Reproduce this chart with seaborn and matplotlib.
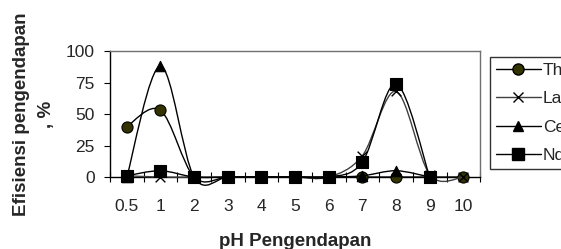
import numpy as np
import pandas as pd
import seaborn as sns
import matplotlib.pyplot as plt
from matplotlib.path import Path
from matplotlib.patches import PathPatch
from matplotlib.lines import Line2D

# Category axis (pH values)
ph_labels = ['0.5', '1', '2', '3', '4', '5', '6', '7', '8', '9', '10']

# Efisiensi pengendapan (%) per element
th = [40, 53, 0, 0, 0, 0, 0, 0, 0, 0, 0]
la = [1, 0, 0, 0, 0, 0, 0, 17, 68, 2, 0]
ce = [0, 88, 0, 0, 0, 0, 0, 1, 5, 0, np.nan]
nd = [1, 5, 0, 0, 0, 0, 0, 12, 74, 0, np.nan]

series_names = ['Th', 'La', 'Ce', 'Nd']
series_values = [th, la, ce, nd]
markers = ['o', 'x', '^', 's']
fills = ['#333300', 'black', 'black', 'black']
line_colors = ['black', '#404040', 'black', 'black']
msizes = [8, 7, 7.5, 8]

sns.set_style('white')
plt.rcParams['font.family'] = ['Liberation Sans', 'DejaVu Sans']


def smooth_path(xs, ys):
    # Excel-style smoothed line: cubic bezier through the points
    pts = [(x, y) for x, y in zip(xs, ys) if not np.isnan(y)]
    n = len(pts)
    verts = [pts[0]]
    codes = [Path.MOVETO]
    for i in range(n - 1):
        p0 = pts[max(i - 1, 0)]
        p1 = pts[i]
        p2 = pts[i + 1]
        p3 = pts[min(i + 2, n - 1)]
        c1 = (p1[0] + (p2[0] - p0[0]) / 6, p1[1] + (p2[1] - p0[1]) / 6)
        c2 = (p2[0] - (p3[0] - p1[0]) / 6, p2[1] - (p3[1] - p1[1]) / 6)
        verts += [c1, c2, p2]
        codes += [Path.CURVE4] * 3
    return Path(verts, codes)


fig = plt.figure(figsize=(5.61, 2.49), dpi=100)
ax = fig.add_axes([0.196, 0.289, 0.660, 0.506])

pos = np.arange(len(ph_labels))
for i, (name, vals) in enumerate(zip(series_names, series_values)):
    vals = np.array(vals, dtype=float)
    patch = PathPatch(smooth_path(pos, vals), facecolor='none', edgecolor=line_colors[i],
                      lw=1.0, zorder=3 + i, clip_on=False)
    ax.add_patch(patch)
    df = pd.DataFrame({'ph': pos, 'eff': vals}).dropna()
    if markers[i] == 'x':
        sns.scatterplot(data=df, x='ph', y='eff', marker='x', color='black',
                        s=msizes[i] ** 2, linewidth=1.0, ax=ax, zorder=3.5 + i, clip_on=False)
    else:
        sns.scatterplot(data=df, x='ph', y='eff', marker=markers[i], color=fills[i],
                        edgecolor='black', s=msizes[i] ** 2, linewidth=0.8,
                        ax=ax, zorder=3.5 + i, clip_on=False)

ax.set_xlim(-0.5, 10.5)
ax.set_ylim(0, 100)
ax.set_yticks([0, 25, 50, 75, 100])
ax.set_xticks(pos)
ax.set_xticklabels(ph_labels)
ax.set_xticks(np.arange(-0.5, 11, 1), minor=True)
ax.tick_params(axis='x', which='major', length=0, pad=15.5, labelsize=12.5)
ax.tick_params(axis='x', which='minor', direction='inout', length=7, width=0.8, color='black', bottom=True)
ax.tick_params(axis='y', which='major', direction='out', length=4, width=0.8, color='black',
               left=True, pad=7, labelsize=12.5)

for side in ['left', 'bottom']:
    ax.spines[side].set_color('black')
    ax.spines[side].set_linewidth(1.0)
    ax.spines[side].set_zorder(2.5)
for side in ['top', 'right']:
    ax.spines[side].set_color('#707070')
    ax.spines[side].set_linewidth(1.0)

ax.set_xlabel('pH Pengendapan', fontsize=13.5, fontweight='bold', labelpad=14)
ax.set_ylabel('Efisiensi pengendapan\n, %', fontsize=13.5, fontweight='bold', labelpad=8,
              linespacing=1.55)

handles = []
for i, name in enumerate(series_names):
    if markers[i] == 'x':
        handles.append(Line2D([], [], color=line_colors[i], lw=1.0, marker='x', markersize=7,
                              markeredgewidth=1.0, markeredgecolor='black'))
    else:
        handles.append(Line2D([], [], color=line_colors[i], lw=1.0, marker=markers[i],
                              markersize=msizes[i], markerfacecolor=fills[i],
                              markeredgecolor='black'))
leg = fig.legend(handles, series_names, loc='upper left', bbox_to_anchor=(0.873, 0.771),
                 frameon=True, fancybox=False, fontsize=12.5, handlelength=2.6,
                 handletextpad=0.1, labelspacing=0.75, borderpad=0.35, borderaxespad=0)
leg.get_frame().set_edgecolor('black')
leg.get_frame().set_linewidth(1.0)

fig.savefig('out.png', dpi=100)
